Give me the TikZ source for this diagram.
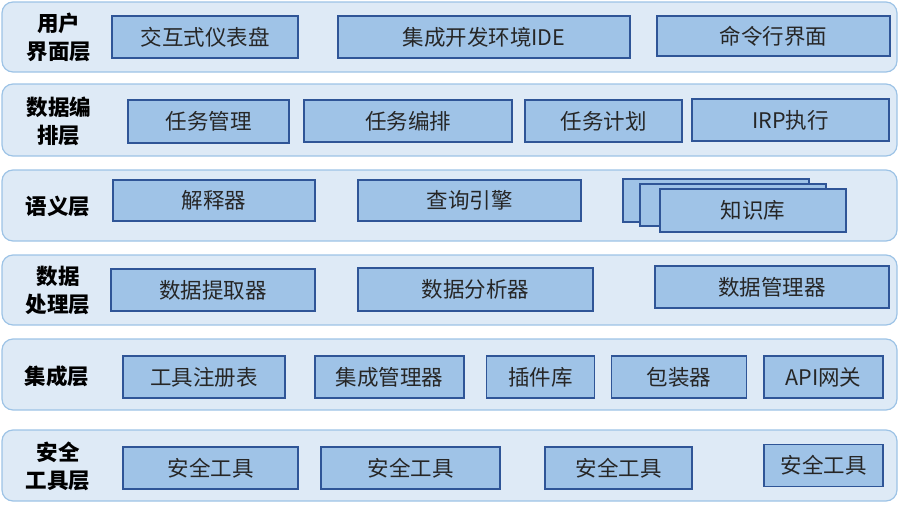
\documentclass[tikz,border=0pt]{standalone}
\usepackage{fontspec}
\setmainfont{Noto Sans CJK SC}
\definecolor{layfill}{HTML}{DEEAF6}
\definecolor{laydraw}{HTML}{9DC3E6}
\definecolor{boxfill}{HTML}{9FC3E7}
\definecolor{boxdraw}{HTML}{2F5597}
\definecolor{txt}{HTML}{262626}
\tikzset{
  layer/.style={draw=laydraw, fill=layfill, line width=1.2pt, rounded corners=11pt, inner sep=0pt},
  blk/.style={draw=boxdraw, fill=boxfill, line width=1.3pt, inner sep=0pt, font=\fontsize{21.5}{24}\selectfont, text=txt},
  lab/.style={align=center, font=\fontsize{21.5}{28}\selectfont\bfseries, text=black, inner sep=0pt}
}
\begin{document}
\begin{tikzpicture}[x=1pt,y=-1pt]
\useasboundingbox (0,0) rectangle (900,509);
% layers
\node[layer, minimum width=895, minimum height=70] (L1) at (449.5,37) {};
\node[layer, minimum width=895, minimum height=72] (L2) at (449.5,120) {};
\node[layer, minimum width=895, minimum height=71] (L3) at (449.5,205.5) {};
\node[layer, minimum width=895, minimum height=70] (L4) at (449.5,290) {};
\node[layer, minimum width=895, minimum height=71] (L5) at (449.5,374.5) {};
\node[layer, minimum width=895, minimum height=71] (L6) at (449.5,465.5) {};
% labels
\node[lab] (T1) at (59,37) {用户\\界面层};
\node[lab] (T2) at (59,121) {数据编\\排层};
\node[lab] (T3) at (58,206) {语义层};
\node[lab] (T4) at (58,290) {数据\\处理层};
\node[lab] (T5) at (57,376) {集成层};
\node[lab] (T6) at (58,466) {安全\\工具层};
% layer 1
\node[blk, minimum width=186, minimum height=42] (A1) at (205,37) {交互式仪表盘};
\node[blk, minimum width=292, minimum height=42] (A2) at (484,37) {集成开发环境IDE};
\node[blk, minimum width=233, minimum height=40] (A3) at (773.5,36) {命令行界面};
% layer 2
\node[blk, minimum width=161, minimum height=43] (B1) at (208.5,121.5) {任务管理};
\node[blk, minimum width=208, minimum height=42] (B2) at (408,121) {任务编排};
\node[blk, minimum width=157, minimum height=42] (B3) at (603.5,121) {任务计划};
\node[blk, minimum width=197, minimum height=42] (B4) at (790.5,120) {IRP执行};
% layer 3
\node[blk, minimum width=202, minimum height=41] (C1) at (214,200.5) {解释器};
\node[blk, minimum width=223, minimum height=41] (C2) at (469.5,200.5) {查询引擎};
\node[blk, minimum width=186, minimum height=43] (C3c) at (716,200.5) {};
\node[blk, minimum width=186, minimum height=42] (C3b) at (733,205) {};
\node[blk, minimum width=186, minimum height=43] (C3) at (753,210.5) {知识库};
% layer 4
\node[blk, minimum width=204, minimum height=42] (D1) at (213,290) {数据提取器};
\node[blk, minimum width=235, minimum height=43] (D2) at (475.5,289.5) {数据分析器};
\node[blk, minimum width=234, minimum height=42] (D3) at (772,287) {数据管理器};
% layer 5
\node[blk, minimum width=162, minimum height=42] (E1) at (204,377) {工具注册表};
\node[blk, minimum width=149, minimum height=42] (E2) at (389.5,377) {集成管理器};
\node[blk, minimum width=108, minimum height=42] (E3) at (540.5,377) {插件库};
\node[blk, minimum width=135, minimum height=42] (E4) at (679,377) {包装器};
\node[blk, minimum width=119, minimum height=42] (E5) at (823.5,377) {API网关};
% layer 6
\node[blk, minimum width=175, minimum height=42] (F1) at (210.5,468) {安全工具};
\node[blk, minimum width=179, minimum height=42] (F2) at (410.5,468) {安全工具};
\node[blk, minimum width=147, minimum height=42] (F3) at (618.5,468) {安全工具};
\node[blk, minimum width=119, minimum height=42] (F4) at (823.5,465.5) {安全工具};
\end{tikzpicture}
\end{document}
